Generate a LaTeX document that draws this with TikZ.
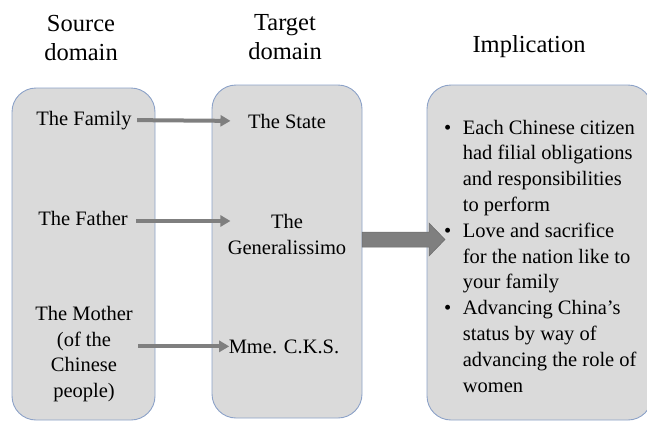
\documentclass[tikz,border=0pt]{standalone}
\usepackage{fontspec}
\setmainfont{Liberation Serif}
\usetikzlibrary{arrows.meta}
\definecolor{boxfill}{RGB}{218,218,218}
\definecolor{boxline}{RGB}{140,162,200}
\definecolor{arrowgray}{RGB}{127,127,127}
\tikzset{
	domainbox/.style={draw=boxline, fill=boxfill, line width=0.9pt, rounded corners=24pt},
	headtext/.style={anchor=base, align=center, font=\fontsize{24.5}{29}\selectfont},
	celltext/.style={anchor=base, align=center, font=\fontsize{20.5}{25.5}\selectfont},
	maparrow/.style={draw=arrowgray, line width=4pt, -{Triangle[length=10pt,width=11pt]}}
}
\begin{document}
\begin{tikzpicture}[x=1pt,y=-1pt]
	\useasboundingbox (0,0) rectangle (647,421);
	% Kaesten
	\filldraw[domainbox] (12,88) rectangle (155,420);
	\filldraw[domainbox] (212,85) rectangle (362,418);
	\filldraw[domainbox] (427,85) rectangle (652,420);

	% Ueberschriften (Grundlinie der letzten Zeile)
	\node[headtext] (srchead) at (81,60) {Source\\domain};
	\node[headtext] (tgthead) at (285,59) {Target\\domain};
	\node[headtext] (imphead) at (529,52) {Implication};

	% Quelle
	\node[celltext] (family) at (84,125) {The Family};
	\node[celltext] (father) at (83,225) {The Father};
	\node[celltext] (mother) at (84,397) {The Mother\\(of the\\Chinese\\people)};
	% Ziel
	\node[celltext] (state) at (287,128) {The State};
	\node[celltext] (generalissimo) at (287,254) {The\\Generalissimo};
	\node[celltext] (mme) at (284,353) {Mme. C.K.S.};
	% Folgerungen
	\node[anchor=base west, inner sep=0pt, font=\fontsize{20.5}{25.8}\selectfont] (implist) at (444,134) {%
		\begin{tabular}[t]{@{}l@{\hspace{11.5pt}}l@{}}
			\textbullet & Each Chinese citizen\\
			& had filial obligations\\
			& and responsibilities\\
			& to perform\\
			\textbullet & Love and sacrifice\\
			& for the nation like to\\
			& your family\\
			\textbullet & Advancing China’s\\
			& status by way of\\
			& advancing the role of\\
			& women
		\end{tabular}};

	% Pfeile
	\draw[maparrow, shorten <=2pt, shorten >=14pt] (family.east) -- (state.west);
	\draw[maparrow, shorten <=5pt, shorten >=14pt] ([yshift=-3pt]father.east) -- ([yshift=-3pt]father.east -| state.west);
	\draw[maparrow, shorten <=2pt, shorten >=-4pt] (mother.east |- mme.west) -- (mme.west);
	\filldraw[fill=arrowgray, draw=arrowgray!85!black, line width=0.5pt]
		(362,232) -- (429,232) -- (429,223) -- (445,239.5) -- (429,256) -- (429,247) -- (362,247) -- cycle;
\end{tikzpicture}
\end{document}
